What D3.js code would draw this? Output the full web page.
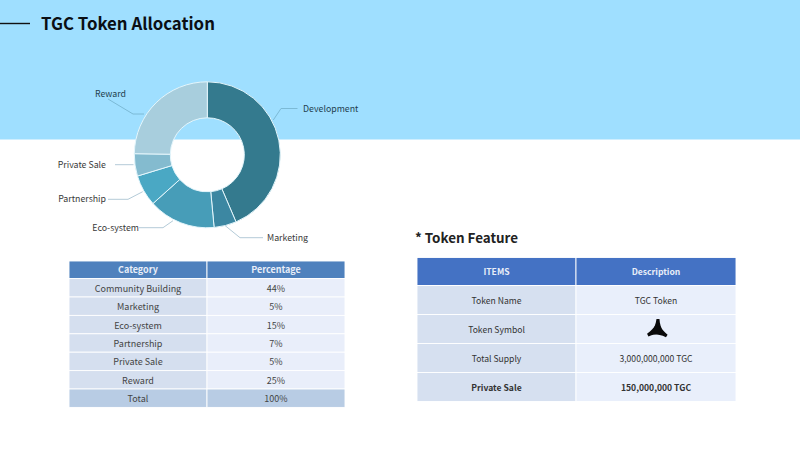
<!DOCTYPE html>
<html>
<head>
<meta charset="utf-8">
<script src="https://cdn.jsdelivr.net/npm/d3@7/dist/d3.min.js"></script>
<style>
  html, body { margin: 0; padding: 0; background: #fff; }
  svg { display: block; }
  text { font-family: "Noto Sans CJK KR", "Noto Sans", sans-serif; }
</style>
</head>
<body>
<svg id="chart" width="800" height="450"></svg>
<script>
// Allocation data
const sliceNames = ["Development", "Marketing", "Eco-system", "Partnership", "Private Sale", "Reward"];
const sliceValues = [44, 5, 15, 7, 5, 25];
const sliceColors = ["#347a8e", "#3c87a2", "#479db8", "#4aa8c4", "#84bbcf", "#a8cedd"];

// Left table
const allocHeader = ["Category", "Percentage"];
const allocCategories = ["Community Building", "Marketing", "Eco-system", "Partnership", "Private Sale", "Reward", "Total"];
const allocPercents = ["44%", "5%", "15%", "7%", "5%", "25%", "100%"];

// Right table
const featureHeader = ["ITEMS", "Description"];
const featureItems = ["Token Name", "Token Symbol", "Total Supply", "Private Sale"];
const featureValues = ["TGC Token", null, "3,000,000,000 TGC", "150,000,000 TGC"];

// Leader line routing, one entry per slice: point on the rim, elbow, end, label start
const leaderRoutes = [
  { rim: [273.3, 120], elbow: [281, 108.5], end: [297.5, 108.5], label: [303, 108.5], anchor: "start" },
  { rim: [225, 225.5], elbow: [240, 237.7], end: [263, 237.7], label: [267, 237.7], anchor: "start" },
  { rim: [173, 220.7], elbow: [163, 227.7], end: [139, 227.7], label: [139, 227.7], anchor: "end" },
  { rim: [142.7, 191.7], elbow: [128, 199.3], end: [108, 199.3], label: [106, 199.3], anchor: "end" },
  { rim: [133.5, 164.7], elbow: [133.5, 164.7], end: [115, 164.7], label: [106, 164.7], anchor: "end" },
  { rim: [144, 114], elbow: [133, 114], end: [108, 99], label: [126, 93.6], anchor: "end" }
];

const svg = d3.select("#chart");

// Backdrop band and heading
svg.append("rect").attr("width", 800).attr("height", 139.5).attr("fill", "#9fdfff");
svg.append("line").attr("x1", 0).attr("x2", 30).attr("y1", 23.5).attr("y2", 23.5)
  .attr("stroke", "#111").attr("stroke-width", 1.4);
svg.append("text").attr("x", 41).attr("y", 30).attr("font-size", 16.8).attr("font-weight", 700)
  .attr("fill", "#0b0f14").text("TGC Token Allocation");
svg.append("text").attr("x", 415).attr("y", 242.5).attr("font-size", 13.4).attr("font-weight", 700)
  .attr("fill", "#222").text("* Token Feature");

// Donut
const pie = d3.pie().sort(null).value(d => d)(sliceValues);
const arc = d3.arc().innerRadius(37).outerRadius(73);
const donut = svg.append("g").attr("transform", "translate(207.3,154.8)");
donut.selectAll("path").data(pie).join("path")
  .attr("d", arc)
  .attr("fill", (d, i) => sliceColors[i])
  .attr("stroke", "#e4f6fc")
  .attr("stroke-width", 1);

// Leader lines and slice labels
const leaderLine = d3.line();
svg.append("g").selectAll("path").data(leaderRoutes).join("path")
  .attr("d", r => leaderLine([r.rim, r.elbow, r.end]))
  .attr("fill", "none")
  .attr("stroke", (r, i) => i === 0 || i === 5 ? "#7cbad6" : "#b4cbd8")
  .attr("stroke-width", 1);
svg.append("g").selectAll("text").data(sliceNames).join("text")
  .attr("x", (d, i) => leaderRoutes[i].label[0])
  .attr("y", (d, i) => leaderRoutes[i].label[1])
  .attr("dy", "0.35em")
  .attr("text-anchor", (d, i) => leaderRoutes[i].anchor)
  .attr("font-size", 8.8)
  .attr("fill", (d, i) => i === 0 || i === 5 ? "#1f3f50" : "#3a3a3a")
  .text(d => d);

// Two-column table laid out from the row heights
function drawTable(opts) {
  const rows = [opts.header].concat(opts.col1.map((c, i) => [c, opts.col2[i]]));
  const x = d3.scaleOrdinal().domain([0, 1]).range([opts.x0, opts.xMid]);
  const widths = [opts.xMid - opts.x0, opts.x1 - opts.xMid];
  const heights = [opts.headHeight].concat(opts.col1.map(() => opts.rowHeight));
  const tops = d3.cumsum([0].concat(heights)).map(h => h + opts.y0);
  const g = svg.append("g");
  rows.forEach((row, r) => {
    row.forEach((cell, c) => {
      g.append("rect")
        .attr("x", x(c)).attr("y", tops[r])
        .attr("width", widths[c]).attr("height", heights[r])
        .attr("fill", opts.fill(r, c))
        .attr("stroke", "#fff").attr("stroke-width", 0.9);
      if (cell !== null) {
        g.append("text")
          .attr("x", x(c) + widths[c] / 2)
          .attr("y", tops[r] + heights[r] / 2 + (r === 0 ? opts.headShift : opts.bodyShift))
          .attr("dy", "0.35em")
          .attr("text-anchor", "middle")
          .attr("font-size", opts.fontSize)
          .attr("font-weight", r === 0 || opts.boldRows.includes(r) ? 700 : 400)
          .attr("fill", r === 0 ? "#e8eef8" : opts.ink)
          .text(cell);
      }
    });
  });
  return { cx: x(1) + widths[1] / 2, cy: r => tops[r] + heights[r] / 2 };
}

drawTable({
  header: allocHeader, col1: allocCategories, col2: allocPercents,
  x0: 69, xMid: 207, x1: 345, y0: 261, headHeight: 17.6, rowHeight: 18.4,
  fontSize: 9, boldRows: [], ink: "#444", headShift: 0.5, bodyShift: 0.9,
  fill: (r, c) => r === 0 ? "#4f81bd" : r === 7 ? "#b8cce4" : c === 0 ? "#d5dfef" : "#e9eefa"
});

const feature = drawTable({
  header: featureHeader, col1: featureItems, col2: featureValues,
  x0: 417, xMid: 576, x1: 736, y0: 257.5, headHeight: 28, rowHeight: 29,
  fontSize: 8.6, boldRows: [4], ink: "#333", headShift: 0.3, bodyShift: 1,
  fill: (r, c) => r === 0 ? "#4472c4" : c === 0 ? "#d6e0f0" : "#e9effb"
});

// Three-armed token mark in the description column
const mark = svg.append("g")
  .attr("transform", `translate(${feature.cx + 1.5},${feature.cy(2) + 1})`);
d3.range(3).forEach(i => {
  mark.append("path")
    .attr("transform", `rotate(${i * 120 + 3})`)
    .attr("d", "M-1.6,-11 L1.4,-11 C1.8,-6 3.6,-2.5 5.6,1 L0,3.6 L-4.6,0.6 C-3,-3 -2,-6.5 -1.6,-11 Z")
    .attr("fill", "#0a0a0a");
});
</script>
</body>
</html>
